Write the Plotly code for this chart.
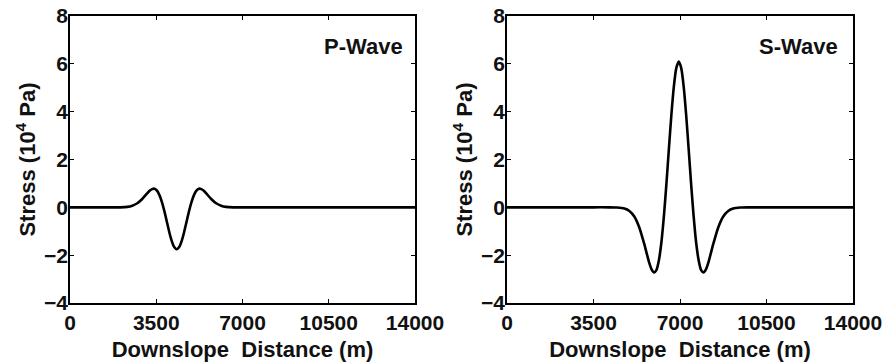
import plotly.graph_objects as go

# P-wave stress (10^4 Pa) vs downslope distance (m)
p_x = [0, 1500, 2030, 2330, 2530, 2730, 2930, 3130, 3230, 3330, 3430, 3530, 3630, 3730,
       3830, 3930, 4030, 4130, 4230, 4330, 4430, 4530, 4630, 4730, 4830, 4930, 5030,
       5130, 5230, 5330, 5430, 5530, 5730, 5930, 6130, 6330, 6630, 7500, 14000]
p_y = [0, 0, 0.0, 0.02, 0.07, 0.17, 0.35, 0.58, 0.69, 0.76, 0.78, 0.70, 0.51, 0.22,
       -0.16, -0.60, -1.04, -1.41, -1.66, -1.75, -1.66, -1.41, -1.04, -0.60, -0.16, 0.22, 0.51,
       0.70, 0.78, 0.76, 0.69, 0.58, 0.35, 0.17, 0.07, 0.02, 0.0, 0, 0]

# S-wave stress (10^4 Pa) vs downslope distance (m)
s_x = [0, 3500, 4150, 4450, 4750, 4950, 5150, 5350, 5550, 5750, 5850, 5950, 6050, 6150,
       6250, 6350, 6450, 6550, 6650, 6750, 6850, 6950, 7050, 7150, 7250, 7350, 7450, 7550,
       7650, 7750, 7850, 7950, 8050, 8150, 8350, 8550, 8750, 8950, 9150, 9450, 9750, 14000]
s_y = [0, 0, 0, -0.01, -0.05, -0.15, -0.38, -0.83, -1.52, -2.30, -2.59, -2.72, -2.61, -2.19,
       -1.44, -0.35, 0.98, 2.44, 3.85, 5.04, 5.82, 6.10, 5.82, 5.04, 3.85, 2.44, 0.98, -0.35,
       -1.44, -2.19, -2.61, -2.72, -2.59, -2.30, -1.52, -0.83, -0.38, -0.15, -0.05, -0.01, 0, 0]

x_ticks = [0, 3500, 7000, 10500, 14000]
y_ticks = [-4, -2, 0, 2, 4, 6, 8]
panel_labels = ["P-Wave", "S-Wave"]
x_title = "Downslope\u00a0\u00a0Distance (m)"
y_title = "Stress (10<sup>4</sup> Pa)"

FONT = "Liberation Sans"
W, H = 883, 362

fig = go.Figure()
fig.add_trace(go.Scatter(x=p_x, y=p_y, mode="lines", line=dict(color="black", width=2.6, shape="spline", smoothing=0.6),
                         xaxis="x", yaxis="y", showlegend=False))
fig.add_trace(go.Scatter(x=s_x, y=s_y, mode="lines", line=dict(color="black", width=2.6, shape="spline", smoothing=0.6),
                         xaxis="x2", yaxis="y2", showlegend=False))

def px(v):
    return v / W

def py(v):
    return 1 - v / H

tickfont = dict(family=FONT, size=21, color="#111", weight="bold")
titlefont = dict(family=FONT, size=22, color="#111", weight="bold")

common_x = dict(range=[0, 14000], tickvals=x_ticks, ticktext=[str(v) for v in x_ticks],
                showline=True, linecolor="black", linewidth=1.5, mirror="ticks",
                ticks="inside", ticklen=4, tickwidth=1.2, tickcolor="black",
                showgrid=False, zeroline=False, tickfont=tickfont, automargin=False,
                ticklabeloverflow="allow",
                title=dict(text=x_title, font=titlefont, standoff=12))
common_y = dict(range=[-4, 8], tickvals=y_ticks,
                showline=True, linecolor="black", linewidth=1.5, mirror="ticks",
                ticks="inside", ticklen=4, tickwidth=1.2, tickcolor="black",
                showgrid=False, zeroline=False, tickfont=tickfont, automargin=False,
                ticklabeloverflow="allow", ticklabelstandoff=-4,
                title=dict(text=y_title, font=titlefont, standoff=2))

fig.update_layout(
    width=W, height=H,
    margin=dict(l=0, r=0, t=0, b=0, autoexpand=False),
    paper_bgcolor="white", plot_bgcolor="white",
    xaxis=dict(domain=[px(70), px(415)], anchor="y", **common_x),
    yaxis=dict(domain=[py(303), py(16)], anchor="x", **common_y),
    xaxis2=dict(domain=[px(507), px(853)], anchor="y2", **common_x),
    yaxis2=dict(domain=[py(303), py(16)], anchor="x2", **common_y),
    annotations=[
        dict(text=panel_labels[0], x=px(363), y=py(46), xref="paper", yref="paper",
             xanchor="center", yanchor="middle", showarrow=False,
             font=dict(family=FONT, size=22, color="#111", weight="bold")),
        dict(text=panel_labels[1], x=px(798), y=py(46), xref="paper", yref="paper",
             xanchor="center", yanchor="middle", showarrow=False,
             font=dict(family=FONT, size=22, color="#111", weight="bold")),
    ],
)

fig.write_html("out.html", config={"displayModeBar": False},
               post_script="document.body.style.margin='0';document.body.style.overflow='hidden';")
